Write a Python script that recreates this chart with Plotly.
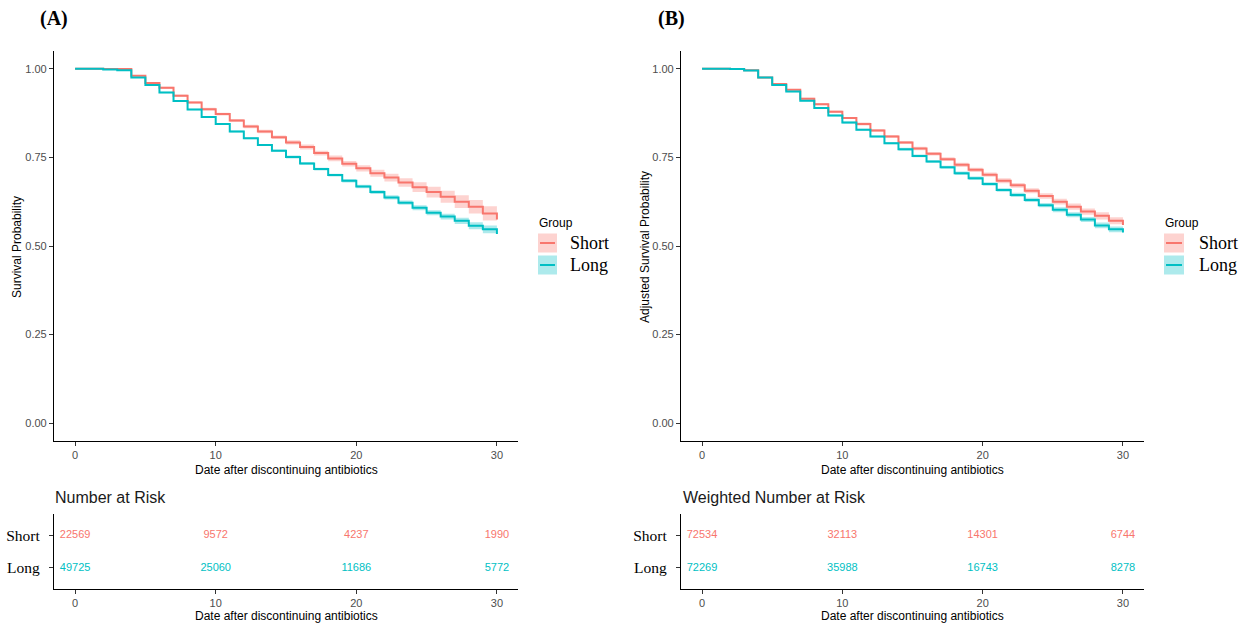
import plotly.graph_objects as go

W, H = 1246, 625

# ---------------- data ----------------
days = list(range(31))
groups = ["Short", "Long"]

a_short = [1.000, 1.000, 0.999, 0.999, 0.980, 0.960, 0.946, 0.924, 0.905, 0.886, 0.872,
           0.854, 0.837, 0.823, 0.807, 0.792, 0.779, 0.762, 0.747, 0.732, 0.719,
           0.705, 0.693, 0.679, 0.666, 0.652, 0.639, 0.625, 0.611, 0.592, 0.575]
a_long = [1.000, 1.000, 0.998, 0.996, 0.975, 0.954, 0.933, 0.909, 0.885, 0.864, 0.844,
          0.823, 0.804, 0.785, 0.769, 0.751, 0.733, 0.717, 0.700, 0.684, 0.668,
          0.652, 0.637, 0.622, 0.608, 0.594, 0.583, 0.571, 0.557, 0.547, 0.534]
a_short_hw = [0.000, 0.001, 0.001, 0.001, 0.002, 0.002, 0.003, 0.003, 0.003, 0.004, 0.004,
              0.004, 0.005, 0.005, 0.005, 0.006, 0.007, 0.007, 0.008, 0.008, 0.009,
              0.010, 0.011, 0.012, 0.014, 0.015, 0.017, 0.018, 0.019, 0.020, 0.020]
a_long_hw = [0.000, 0.001, 0.001, 0.001, 0.001, 0.002, 0.002, 0.002, 0.002, 0.002, 0.003,
             0.003, 0.003, 0.003, 0.003, 0.004, 0.004, 0.004, 0.004, 0.005, 0.005,
             0.005, 0.006, 0.006, 0.007, 0.007, 0.008, 0.009, 0.010, 0.011, 0.011]

b_short = [1.000, 1.000, 0.999, 0.996, 0.975, 0.957, 0.941, 0.915, 0.900, 0.879, 0.861,
           0.844, 0.826, 0.809, 0.792, 0.775, 0.760, 0.745, 0.729, 0.715, 0.701,
           0.684, 0.671, 0.656, 0.641, 0.625, 0.611, 0.597, 0.585, 0.571, 0.559]
b_long = [1.000, 1.000, 0.999, 0.995, 0.975, 0.954, 0.936, 0.910, 0.889, 0.868, 0.848,
          0.828, 0.809, 0.790, 0.773, 0.754, 0.738, 0.722, 0.705, 0.691, 0.675,
          0.658, 0.644, 0.630, 0.615, 0.602, 0.588, 0.575, 0.558, 0.547, 0.538]
b_short_hw = [0.000, 0.001, 0.001, 0.001, 0.002, 0.002, 0.002, 0.003, 0.003, 0.003, 0.003,
              0.004, 0.004, 0.004, 0.004, 0.005, 0.005, 0.005, 0.006, 0.006, 0.006,
              0.007, 0.007, 0.007, 0.008, 0.008, 0.009, 0.009, 0.010, 0.010, 0.010]
b_long_hw = [0.000, 0.001, 0.001, 0.001, 0.001, 0.002, 0.002, 0.002, 0.002, 0.003, 0.003,
             0.003, 0.003, 0.003, 0.004, 0.004, 0.004, 0.004, 0.005, 0.005, 0.005,
             0.005, 0.006, 0.006, 0.006, 0.007, 0.007, 0.007, 0.008, 0.008, 0.008]

risk_times = [0, 10, 20, 30]
a_risk_short = [22569, 9572, 4237, 1990]
a_risk_long = [49725, 25060, 11686, 5772]
b_risk_short = [72534, 32113, 14301, 6744]
b_risk_long = [72269, 35988, 16743, 8278]

x_ticks = [0, 10, 20, 30]
y_ticks = [0.0, 0.25, 0.50, 0.75, 1.00]
y_ticktext = ["0.00", "0.25", "0.50", "0.75", "1.00"]

# ---------------- style ----------------
RED = "#F8766D"
CYAN = "#00BFC4"
RED_F = "rgba(248,118,109,0.32)"
CYAN_F = "rgba(0,191,196,0.32)"
SANS = "Liberation Sans, Arial, sans-serif"
SERIF = "Liberation Serif, Times New Roman, serif"
TICKGRAY = "#4D4D4D"


def px(x):
    return x / W


def py(y):
    return 1 - y / H


fig = go.Figure()


def add_km(xa, ya, s, hw, color, fill):
    upper = [v + h for v, h in zip(s, hw)]
    lower = [v - h for v, h in zip(s, hw)]
    fig.add_trace(go.Scatter(x=days, y=upper, mode="lines", line=dict(width=0, shape="hv", color=fill),
                             xaxis=xa, yaxis=ya, showlegend=False, hoverinfo="skip"))
    fig.add_trace(go.Scatter(x=days, y=lower, mode="lines", line=dict(width=0, shape="hv", color=fill),
                             fill="tonexty", fillcolor=fill,
                             xaxis=xa, yaxis=ya, showlegend=False, hoverinfo="skip"))


def add_line(xa, ya, s, color, name):
    fig.add_trace(go.Scatter(x=days, y=s, mode="lines", name=name,
                             line=dict(width=2, shape="hv", color=color),
                             xaxis=xa, yaxis=ya, showlegend=False))


# Panel A
add_km("x", "y", a_short, a_short_hw, RED, RED_F)
add_km("x", "y", a_long, a_long_hw, CYAN, CYAN_F)
add_line("x", "y", a_short, RED, "Short")
add_line("x", "y", a_long, CYAN, "Long")
# Panel B
add_km("x3", "y3", b_short, b_short_hw, RED, RED_F)
add_km("x3", "y3", b_long, b_long_hw, CYAN, CYAN_F)
add_line("x3", "y3", b_short, RED, "Short")
add_line("x3", "y3", b_long, CYAN, "Long")


def add_risk(xa, ya, vals, row, color):
    fig.add_trace(go.Scatter(x=risk_times, y=[row] * len(risk_times), mode="text",
                             text=[str(v) for v in vals], textposition="middle center",
                             textfont=dict(family=SANS, size=11, color=color),
                             xaxis=xa, yaxis=ya, showlegend=False, cliponaxis=False,
                             hoverinfo="skip"))


add_risk("x2", "y2", a_risk_short, 1, RED)
add_risk("x2", "y2", a_risk_long, 0, CYAN)
add_risk("x4", "y4", b_risk_short, 1, RED)
add_risk("x4", "y4", b_risk_long, 0, CYAN)

axis_common = dict(showline=True, linecolor="black", linewidth=1.2, ticks="outside", ticklen=4,
                   tickwidth=1, tickcolor="#333333", showgrid=False, zeroline=False,
                   tickfont=dict(family=SANS, size=11, color=TICKGRAY), fixedrange=True)

domA = [px(54), px(518)]
domB = [px(681), px(1144)]
dom_main = [py(441), py(51)]
dom_risk = [py(589), py(514)]

xr = [-1.5, 31.5]

fig.update_layout(
    width=W, height=H, margin=dict(l=0, r=0, t=0, b=0),
    paper_bgcolor="white", plot_bgcolor="white",
    xaxis=dict(domain=domA, anchor="y", range=xr, tickvals=x_ticks, **axis_common),
    yaxis=dict(domain=dom_main, anchor="x", range=[-0.05, 1.05], tickvals=y_ticks,
               ticktext=y_ticktext, **axis_common),
    xaxis2=dict(domain=domA, anchor="y2", range=xr, tickvals=x_ticks, **axis_common),
    yaxis2=dict(domain=dom_risk, anchor="x2", range=[-0.65, 1.65], tickvals=[0, 1],
                ticktext=["Long", "Short"], ticklabelstandoff=6,
                **{k: v for k, v in axis_common.items() if k != "tickfont"},
                tickfont=dict(family=SERIF, size=15.5, color="black")),
    xaxis3=dict(domain=domB, anchor="y3", range=xr, tickvals=x_ticks, **axis_common),
    yaxis3=dict(domain=dom_main, anchor="x3", range=[-0.05, 1.05], tickvals=y_ticks,
                ticktext=y_ticktext, **axis_common),
    xaxis4=dict(domain=domB, anchor="y4", range=xr, tickvals=x_ticks, **axis_common),
    yaxis4=dict(domain=dom_risk, anchor="x4", range=[-0.65, 1.65], tickvals=[0, 1],
                ticktext=["Long", "Short"], ticklabelstandoff=6,
                **{k: v for k, v in axis_common.items() if k != "tickfont"},
                tickfont=dict(family=SERIF, size=15.5, color="black")),
    showlegend=False,
)

ann = []


def text(x, y, s, size, family=SANS, color="black", xanchor="center", angle=0, bold=False):
    ann.append(dict(x=px(x), y=py(y), xref="paper", yref="paper", text=("<b>%s</b>" % s) if bold else s,
                    showarrow=False, xanchor=xanchor, yanchor="middle", textangle=angle,
                    font=dict(family=family, size=size, color=color)))


# panel labels
text(38, 18, "(A)", 20, SERIF, xanchor="left", bold=True)
text(656, 18, "(B)", 20, SERIF, xanchor="left", bold=True)
# axis titles
text(17, 247, "Survival Probability", 12, angle=-90)
text(645, 247, "Adjusted Survival Probability", 12, angle=-90)
text(286, 470, "Date after discontinuing antibiotics", 12)
text(912, 470, "Date after discontinuing antibiotics", 12)
text(286, 616, "Date after discontinuing antibiotics", 12)
text(912, 616, "Date after discontinuing antibiotics", 12)
# risk titles
text(53, 498, "Number at Risk", 16, xanchor="left", color="#1a1a1a")
text(681, 498, "Weighted Number at Risk", 16, xanchor="left", color="#1a1a1a")

# legends (ggplot-style keys)
shapes = []


def legend(x_title, x_key0, x_key1, x_text):
    text(x_title, 223, "Group", 12, xanchor="left")
    for (yc, col, fcol, lab) in [(243, RED, RED_F, "Short"), (265, CYAN, CYAN_F, "Long")]:
        shapes.append(dict(type="rect", xref="paper", yref="paper", x0=px(x_key0), x1=px(x_key1),
                           y0=py(yc - 9.5), y1=py(yc + 9.5), fillcolor=fcol, line=dict(width=0)))
        shapes.append(dict(type="line", xref="paper", yref="paper", x0=px(x_key0 + 2), x1=px(x_key1 - 2),
                           y0=py(yc), y1=py(yc), line=dict(color=col, width=2)))
        text(x_text, yc, lab, 18, SERIF, xanchor="left")


legend(537, 538, 557, 568)
legend(1163, 1164, 1184, 1197)

fig.update_layout(annotations=ann, shapes=shapes)

fig.write_html("out.html")
